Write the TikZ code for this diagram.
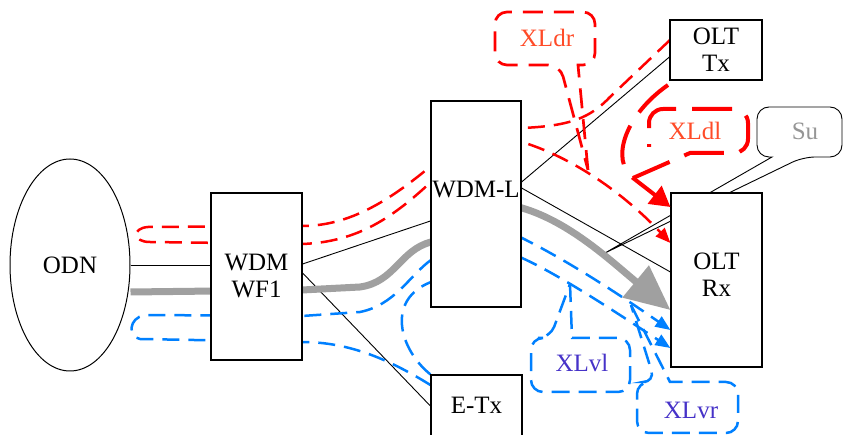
\documentclass[tikz,border=0pt]{standalone}
\usepackage{fontspec}
\setmainfont{Liberation Serif}
\usetikzlibrary{shapes.geometric,arrows.meta}
\pgfdeclarelayer{bg}
\pgfsetlayers{bg,main}
\definecolor{xred}{RGB}{255,0,0}
\definecolor{xblue}{RGB}{0,128,255}
\definecolor{xgray}{RGB}{160,160,160}
\definecolor{redtxt}{RGB}{255,75,40}
\definecolor{bluetxt}{RGB}{70,50,200}
\definecolor{sutxt}{RGB}{150,150,150}
\begin{document}
\begin{tikzpicture}[x=1pt,y=-1pt,
  box/.style={draw,line width=1.2pt,fill=white,inner sep=0pt},
  lbl/.style={font=\fontsize{25}{27}\selectfont,align=center,inner sep=0pt},
  conn/.style={line width=0.9pt},
  reddash/.style={draw=xred,line width=2.5pt,dash pattern=on 17pt off 9pt},
  bluedash/.style={draw=xblue,line width=2.5pt,dash pattern=on 17pt off 9pt},
  graypath/.style={draw=xgray,line width=7pt},
  rdcall/.style={draw=xred,line width=2.7pt,dash pattern=on 20pt off 11pt},
  dlline/.style={draw=xred,line width=4pt,dash pattern=on 40pt off 16pt},
  bcall/.style={draw=xblue,line width=2.5pt,dash pattern=on 18pt off 9pt},
  smalltip/.style={-{Triangle[length=15pt,width=12pt]}}
]
\useasboundingbox (0,0) rectangle (844,435);

% boxes
\node[box,ellipse,lbl,line width=1pt,minimum width=120pt,minimum height=212pt] (odn) at (70,265) {ODN};
\node[box,lbl,minimum width=91pt,minimum height=167pt] (wf1) at (256.5,276.5) {WDM\\WF1};
\node[box,minimum width=90pt,minimum height=206pt] (wdml) at (476,204) {};
\node[lbl] (wdmlt) at (476,190) {WDM-L};
\node[box,lbl,minimum width=92pt,minimum height=60pt] (oltx) at (716,50) {OLT\\Tx};
\node[box,minimum width=91pt,minimum height=174pt] (olrx) at (716.5,280) {};
\node[lbl] (olrxt) at (716.5,275) {OLT\\Rx};
\node[box,minimum width=91pt,minimum height=62pt] (etx) at (476.5,406) {};
\node[lbl] (etxt) at (476.5,405) {E-Tx};

\begin{pgfonlayer}{bg}
  % black connectors
  \draw[conn] (odn.east) -- (odn.east -| wf1.west);
  \draw[conn] ([yshift=12.5pt]wf1.east) -- ([yshift=-17pt]wdml.west);
  \draw[conn] ([yshift=3.5pt]wf1.east) -- (etx.west);
  \draw[conn] ([yshift=22pt]wdml.east) -- ([yshift=-7pt]oltx.west);
  \draw[conn] ([yshift=16pt]wdml.east) -- ([yshift=8pt]olrx.west);
  % Su callout
  \draw[conn] (605,253) -- (772,157) [rounded corners=12pt] -- (757,157) -- (757,107) -- (842,107) -- (842,157) -- (803,157) [sharp corners] -- cycle;
  % gray main path
  \draw[graypath,-{Triangle[length=45pt,width=40pt]}] (odn.east |- 0,292) -- (302,290) -- (360,287)
     .. controls (395,282) and (400,250) .. (431,242) -- (522,208)
     .. controls (570,222) and (612,262) .. (olrx.west |- 0,310);
  % red path
  \draw[reddash,smalltip] (670,40) -- (610,97) .. controls (590,118) and (570,126) .. (522,128)
     -- (431,166) .. controls (390,200) and (350,226) .. (302,226) -- (148,227)
     .. controls (132,228) and (132,242) .. (150,242) -- (302,244)
     .. controls (360,242) and (395,215) .. (431,182) -- (522,142)
     .. controls (580,160) and (630,200) .. (olrx.west |- 0,243);
  % blue paths
  \draw[bluedash,smalltip] (etx.west |- 0,385) .. controls (390,360) and (350,342) .. (302,342)
     -- (140,339) .. controls (128,337) and (128,318) .. (145,315) -- (302,316) -- (360,312)
     .. controls (395,305) and (410,275) .. (431,260) -- (522,238)
     .. controls (570,262) and (620,295) .. (olrx.west |- 0,330);
  \draw[bluedash,smalltip] (etx.north west) .. controls (400,350) and (385,300) .. (431,282)
     -- (522,258) .. controls (560,275) and (620,315) .. (olrx.west |- 0,348);
\end{pgfonlayer}

% XLdl leak path
\draw[dlline,-{Triangle[length=20pt,width=22pt]}] (668,85) .. controls (625,115) and (610,160) .. (633,178) -- (olrx.west |- 0,207);

% callouts
\draw[rdcall] (588,170) -- (578,65) [rounded corners=12pt] -- (595,65) -- (595,12) -- (495,12) -- (495,65) -- (560,65) [sharp corners] -- cycle;
\node[lbl,text=redtxt] (xldr) at (547,38) {XLdr};

\draw[dlline] (633,178) -- (690,153) [rounded corners=14pt] -- (748,153) -- (748,109) -- (649,109) -- (649,147);
\node[lbl,text=redtxt] (xldl) at (695,131) {XLdl};

\draw[bcall] (570,284) -- (572,338) [rounded corners=12pt] -- (630,338) -- (630,392) -- (531,392) -- (531,338) -- (550,338) [sharp corners] -- cycle;
\node[lbl,text=bluetxt] (xlvl) at (582,363) {XLvl};

\draw[bcall] (631,305) -- (670,382) [rounded corners=12pt] -- (738,382) -- (738,433) -- (637,433) -- (637,382) -- (655,382) [sharp corners] -- cycle;
\node[lbl,text=bluetxt] (xlvr) at (691,410) {XLvr};

\node[lbl,text=sutxt] (su) at (805,131) {Su};
\end{tikzpicture}
\end{document}
